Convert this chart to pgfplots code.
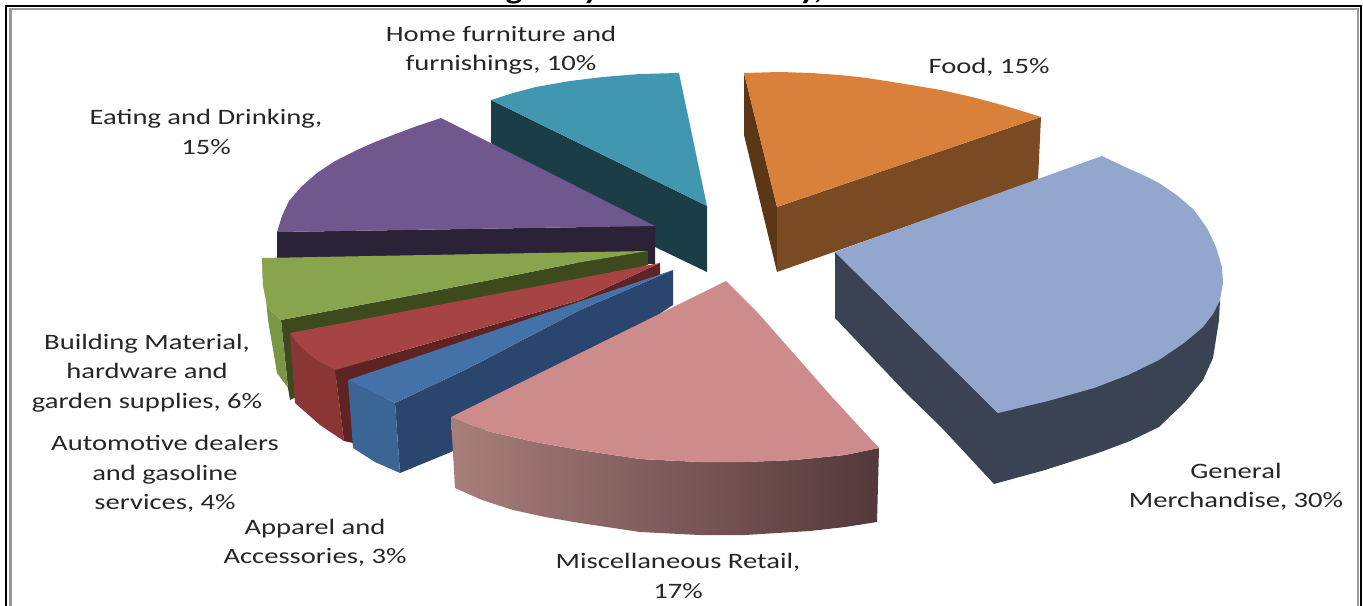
\documentclass[border=0pt]{standalone}
\usepackage{pgfplots}
\pgfplotsset{compat=1.18}
\usepackage{fontspec}
\setmainfont[FakeStretch=1.3]{Carlito}
\definecolor{teal1}{HTML}{4197AF}\definecolor{teal2}{HTML}{1A3D48}
\definecolor{purp1}{HTML}{70588E}\definecolor{purp2}{HTML}{2C2238}
\definecolor{gre1}{HTML}{88A44C}\definecolor{gre2}{HTML}{3C4A1E}\definecolor{gre3}{HTML}{7A9746}
\definecolor{red1}{HTML}{A54442}\definecolor{red2}{HTML}{5E2322}\definecolor{red3}{HTML}{8A3634}
\definecolor{blu1}{HTML}{4472A8}\definecolor{blu2}{HTML}{2A466E}\definecolor{blu3}{HTML}{3B6595}
\definecolor{pin1}{HTML}{CD8C8B}\definecolor{pinL}{HTML}{A87E7A}\definecolor{pinR}{HTML}{53383A}
\definecolor{gen1}{HTML}{93A7CE}\definecolor{gen2}{HTML}{394354}
\definecolor{ora1}{HTML}{D9813B}\definecolor{ora2}{HTML}{7A4A22}\definecolor{ora3}{HTML}{5C3716}
\begin{document}
\begin{tikzpicture}
\begin{axis}[name=a,hide axis,scale only axis,width=1022.25pt,height=454.5pt,
  xmin=0,xmax=1363,ymin=0,ymax=606,y dir=reverse]
% Home furniture
\addplot[fill=teal2,draw=none] coordinates {(491,100)(707,206)(707,272)(655,247)(550,200)(491,143)} --cycle;
\addplot[fill=teal1,draw=none] coordinates {(491,100)(513,93)(536,87)(570,81)(603,77)(640,74)(679,73)(707,206)} --cycle;
% Eating
\addplot[fill=purp2,draw=none] coordinates {(277,232)(655,226)(655,264)(277,258)} --cycle;
\addplot[fill=purp1,draw=none] coordinates {(441,118)(417,126)(393,135)(375,142)(357,150)(335,161)(317,173)(301,187)(289,201)(282,216)(277,232)(655,226)} --cycle;
% Building
\addplot[fill=gre2,draw=none] coordinates {(281,320)(424,293)(576,263)(648,251)(648,265)(400,345)(290,400)(288,388)} --cycle;
\addplot[fill=gre3,draw=none] coordinates {(262,258)(263,285)(266,300)(270,310)(281,320)(288,388)(277,373)(268,320)} --cycle;
\addplot[fill=gre1,draw=none] coordinates {(262,258)(648,251)(576,263)(424,293)(281,320)(270,310)(266,300)(263,285)} --cycle;
% Automotive
\addplot[fill=red3,draw=none] coordinates {(290,333)(296,342)(304,350)(318,361)(335,370)(344,441)(320,425)(295,403)} --cycle;
\addplot[fill=red2,draw=none] coordinates {(335,370)(580,300)(660,263)(660,275)(500,340)(400,375)(353,443)(344,441)} --cycle;
\addplot[fill=red1,draw=none] coordinates {(290,333)(660,263)(580,300)(335,370)(318,361)(304,350)(296,342)} --cycle;
% Apparel
\addplot[fill=blu2,draw=none] coordinates {(395,403)(469,368)(580,310)(673,270)(673,305)(451,452)(400,473)} --cycle;
\addplot[fill=blu3,draw=none] coordinates {(348,380)(395,403)(400,473)(375,462)(353,448)} --cycle;
\addplot[fill=blu1,draw=none] coordinates {(348,380)(673,270)(580,310)(469,368)(395,403)} --cycle;
% Misc
\addplot[draw=none,left color=pinL,right color=pinR] coordinates {(451,417)(470,425)(491,432)(535,442)(580,450)(640,459)(700,462)(745,462)(795,460)(845,455)(879,448)(877,522)(845,527)(810,531)(745,535)(700,535)(640,532)(580,523)(545,517)(513,510)(482,500)(455,488)} --cycle;
\addplot[fill=pin1,draw=none] coordinates {(726,281)(758,313)(832,397)(879,448)(845,455)(795,460)(745,462)(700,462)(640,459)(580,450)(535,442)(491,432)(470,425)(451,417)} --cycle;
% Food
\addplot[fill=ora3,draw=none] coordinates {(744,73)(777,207)(777,272)(744,135)} --cycle;
\addplot[fill=ora2,draw=none] coordinates {(777,207)(1041,117)(1038,180)(777,272)} --cycle;
\addplot[fill=ora1,draw=none] coordinates {(744,73)(780,72)(811,73)(840,75)(867,78)(905,84)(941,90)(972,97)(1002,105)(1022,111)(1041,117)(777,207)} --cycle;
% General
\addplot[fill=gen2,draw=none] coordinates {(835,252)(998,413)(1220,300)(1219,320)(1213,358)(1203,380)(1185,402)(1159,427)(1130,441)(1098,453)(1045,470)(994,484)(941,427)(906,393)(835,318)} --cycle;
\addplot[fill=gen1,draw=none] coordinates {(835,252)(1102,156)(1125,167)(1143,175)(1159,183)(1178,196)(1194,210)(1207,228)(1216,247)(1222,267)(1223,283)(1220,300)(1213,314)(1203,327)(1184,343)(1159,360)(1128,375)(1094,388)(1048,401)(998,413)} --cycle;
% frame
\addplot[black,line width=1.9pt] coordinates {(6,606)(6,6)(1361,6)(1361,606)};
\addplot[black!40,line width=1.6pt] coordinates {(10.5,606)(10.5,9)(1358,9)(1358,606)};
% labels
\begin{scope}[every node/.style={align=center,font=\fontsize{16.5}{22}\selectfont,text=black!85,inner sep=0pt}]
\node at (axis cs:501,50) {Home furniture and\\furnishings, 10\%};
\node at (axis cs:989,67) {Food, 15\%};
\node at (axis cs:206,132) {Eating and Drinking,\\15\%};
\node at (axis cs:1236,487) {General\\Merchandise, 30\%};
\node at (axis cs:147,373) {Building Material,\\hardware and\\garden supplies, 6\%};
\node at (axis cs:165,474) {Automotive dealers\\and gasoline\\services, 4\%};
\node at (axis cs:315,543) {Apparel and\\Accessories, 3\%};
\node at (axis cs:678,576) {Miscellaneous Retail,\\17\%};
\end{scope}
% the title, cut by the top edge: only its descenders show
\begin{scope}[every node/.style={anchor=base,font=\bfseries\fontsize{20}{22}\selectfont,inner sep=0pt}]
\node at (axis cs:514,0) {g};
\node at (axis cs:591,0) {y};
\node at (axis cs:811,0) {y,};
\end{scope}
\end{axis}
\useasboundingbox (a.south west) rectangle (a.north east);
\end{tikzpicture}
\end{document}
